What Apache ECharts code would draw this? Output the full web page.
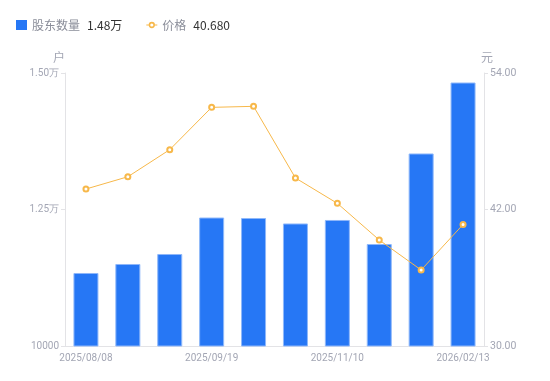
<!DOCTYPE html>
<html><head><meta charset="utf-8">
<script src="https://cdn.jsdelivr.net/npm/echarts@6/dist/echarts.min.js"></script>
<style>html,body{margin:0;padding:0;background:#fff}#c{width:550px;height:381px}</style>
</head><body><div id="c"></div>
<script>
const categories = ['2025/08/08','2025/08/22','2025/08/29','2025/09/19','2025/09/30','2025/10/20','2025/11/10','2025/12/10','2026/01/20','2026/02/13'];
const holders = [11337, 11502, 11685, 12353, 12344, 12244, 12308, 11868, 13526, 14826];
const prices = [43.80, 44.88, 47.26, 50.98, 51.07, 44.77, 42.54, 39.32, 36.68, 40.68];
const leftTicks = {min: 10000, max: 15000, interval: 2500};
const rightTicks = {min: 30, max: 54, interval: 12};

const axisLabelColor = '#a3a6b4';
const ringIcon = 'path://M0,4.4h3.2v1.2h-3.2z M10.8,4.4h3.2v1.2h-3.2z M3,5 A4,4 0 1,1 11,5 A4,4 0 1,1 3,5 Z M5,5 A2,2 0 1,0 9,5 A2,2 0 1,0 5,5 Z';
const chart = echarts.init(document.getElementById('c'));
chart.setOption({
  animation: false,
  legend: {
    left: 11, top: 14, itemWidth: 11, itemHeight: 10, itemGap: 24,
    textStyle: {fontFamily: 'Noto Sans CJK SC', fontSize: 12,
      rich: {n: {color: '#8a8d99', fontSize: 12, fontFamily: 'Noto Sans CJK SC'}, v: {color: '#333', fontSize: 12, padding: [0,0,0,7], fontFamily: 'Noto Sans CJK SC'}}},
    data: [
      {name: '股东数量', icon: 'rect', itemStyle: {borderWidth: 0, color: '#2677f5'}},
      {name: '价格', icon: ringIcon, itemStyle: {color: '#f7b84a', borderWidth: 0}}
    ],
    formatter: function(name){
      if (name === '股东数量') return '{n|' + name + '}{v|' + (holders[holders.length-1]/10000).toFixed(2) + '万}';
      return '{n|' + name + '}{v|' + prices[prices.length-1].toFixed(3) + '}';
    }
  },
  grid: {left: 65, right: 66, top: 73, bottom: 35},
  xAxis: {
    type: 'category', data: categories,
    axisLine: {lineStyle: {color: '#e3e3e6'}},
    axisTick: {show: false},
    axisLabel: {color: axisLabelColor, fontSize: 10, fontFamily: 'Roboto', interval: 2, margin: 7}
  },
  yAxis: [{
    type: 'value', name: '户', min: leftTicks.min, max: leftTicks.max, interval: leftTicks.interval,
    nameTextStyle: {color: axisLabelColor, fontSize: 12, fontFamily: 'Noto Sans CJK SC', padding: [0, 12, 0, 0]},
    nameGap: 10,
    axisLine: {show: true, lineStyle: {color: '#e3e3e6'}},
    axisTick: {show: true, length: 4, lineStyle: {color: '#e3e3e6'}},
    splitLine: {show: false},
    axisLabel: {color: axisLabelColor, fontSize: 10, fontFamily: 'Roboto', margin: 6,
      formatter: v => v > 10000 ? (v/10000).toFixed(2) + '万' : String(v)}
  }, {
    type: 'value', name: '元', min: rightTicks.min, max: rightTicks.max, interval: rightTicks.interval,
    position: 'right',
    nameTextStyle: {color: axisLabelColor, fontSize: 12, fontFamily: 'Noto Sans CJK SC', padding: [0, 0, 0, 6]},
    nameGap: 10,
    axisLine: {show: true, lineStyle: {color: '#e3e3e6'}},
    axisTick: {show: true, length: 4, lineStyle: {color: '#e3e3e6'}},
    splitLine: {show: false},
    axisLabel: {color: axisLabelColor, fontSize: 10.5, fontFamily: 'Roboto', margin: 6,
      formatter: v => v.toFixed(2)}
  }],
  series: [{
    name: '股东数量', type: 'bar', data: holders, barWidth: 25,
    itemStyle: {color: '#2677f5', borderColor: '#8fb8fa', borderWidth: 1}
  }, {
    name: '价格', type: 'line', yAxisIndex: 1, data: prices,
    symbol: 'emptyCircle', symbolSize: 5,
    lineStyle: {color: '#f7b84a', width: 1},
    itemStyle: {color: '#f7b84a', borderWidth: 2}
  }]
});
</script></body></html>
